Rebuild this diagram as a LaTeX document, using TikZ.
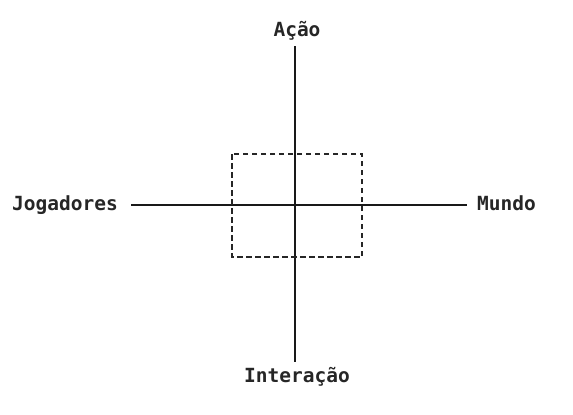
\documentclass[tikz,border=0pt]{standalone}
\usepackage{fontspec}
\setmonofont{DejaVu Sans Mono}
\begin{document}
\begin{tikzpicture}[x=1pt,y=-1pt,
  lbl/.style={font=\ttfamily\bfseries\fontsize{19.5}{22}\selectfont, inner sep=0pt, text=black!85},
  axis/.style={line width=1.8pt, black!90},
  focus/.style={line width=1.4pt, dash pattern=on 5.5pt off 3.5pt, black!85}]
\useasboundingbox (0,0) rectangle (573,415);
\node[lbl, anchor=base] (acao) at (297,36) {Ação};
\node[lbl, anchor=base] (inter) at (297,382) {Interação};
\node[lbl, anchor=base east] (jog) at (118,210) {Jogadores};
\node[lbl, anchor=base west] (mundo) at (477,210) {Mundo};
\coordinate (top) at (295,46);
\coordinate (bot) at (295,362);
\coordinate (lft) at (131,205);
\coordinate (rgt) at (467,205);
\draw[axis] (top) -- (bot);
\draw[axis] (lft) -- (rgt);
\coordinate (b1) at (232,154);
\coordinate (b2) at (362,257);
\draw[focus] (b1) rectangle (b2);
\end{tikzpicture}
\end{document}
